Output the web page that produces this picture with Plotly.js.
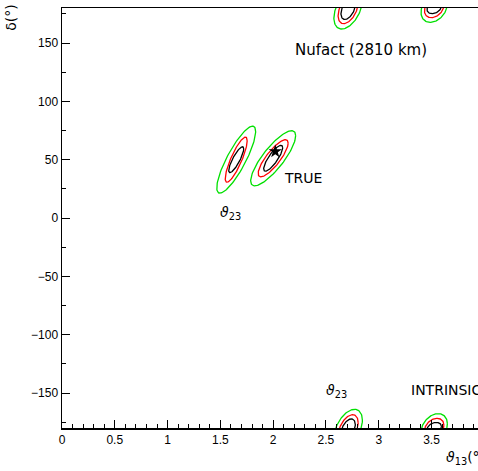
<!DOCTYPE html>
<html><head><meta charset="utf-8">
<script src="https://cdn.plot.ly/plotly-3.0.1.min.js"></script>
<style>html,body{margin:0;padding:0;background:#fff;overflow:hidden}#plot{width:478px;height:471px}</style>
</head><body><div id="plot"></div>
<script>
// Solutions (fit centres): theta13 (deg), delta (deg)
const solNames = ['true', 'theta23', 'intrinsic', 'intrinsic-theta23'];
const solTheta13 = [2.00, 1.65, 2.71, 3.525];
const solDelta = [51.2, 50.0, 179.0, 180.0];
const solRho = [0.82, 0.84, 0.45, 0.3];
// contour levels: inner (black), middle (red), outer (green)
const levelColors = ['#000000', '#ff0000', '#00e000'];
// half-extents in theta13 per solution, per level [black, red, green]
const halfTheta13 = [
  [0.090, 0.142, 0.213],
  [0.071, 0.104, 0.184],
  [0.068, 0.095, 0.135],
  [0.068, 0.092, 0.125]
];
// half-extents in delta per solution, per level
const halfDelta = [
  [11.1, 15.9, 23.6],
  [11.1, 19.3, 28.7],
  [8.8, 12.4, 17.0],
  [4.8, 8.3, 12.3]
];
const trueTheta13 = [2.02];
const trueDelta = [57];

const traces = [];
const N = 120;
solTheta13.forEach((cx, s) => {
  const phi = Math.acos(solRho[s]);
  levelColors.forEach((col, l) => {
    const hx = halfTheta13[s][l], hy = halfDelta[s][l];
    // draw the contour at delta and at its 360-degree copy (delta is periodic)
    [0, -360, 360].forEach(shift => {
      const cy = solDelta[s] + shift;
      if (cy - hy > 180 || cy + hy < -180) return;
      const xs = [], ys = [];
      for (let i = 0; i <= N; i++) {
        const t = 2 * Math.PI * i / N;
        xs.push(cx + hx * Math.cos(t));
        ys.push(cy + hy * Math.cos(t - phi));
      }
      traces.push({x: xs, y: ys, type: 'scatter', mode: 'lines',
        line: {color: col, width: 1.3}, hoverinfo: 'skip', showlegend: false});
    });
  });
});
traces.push({x: trueTheta13, y: trueDelta, type: 'scatter', mode: 'markers',
  marker: {symbol: 'star', size: 10, color: '#000'}, showlegend: false});

const txtFont = {family: 'DejaVu Sans, sans-serif', size: 14, color: '#000'};
const layout = {
  width: 478, height: 471,
  margin: {l: 62, r: 0, t: 8, b: 43},
  paper_bgcolor: '#fff', plot_bgcolor: '#fff',
  showlegend: false,
  xaxis: {range: [0, 3.94], showgrid: false, zeroline: false,
    showline: true, linecolor: '#000', linewidth: 1.5, mirror: true,
    ticks: 'inside', ticklen: 8, tickwidth: 1, tickcolor: '#000', dtick: 0.5, tick0: 0,
    minor: {ticks: 'inside', ticklen: 4, dtick: 0.1, tickcolor: '#000'},
    tickfont: {family: 'Liberation Sans, Arial, sans-serif', size: 12, color: '#000'}},
  yaxis: {range: [-180, 180], showgrid: false, zeroline: false,
    showline: true, linecolor: '#000', linewidth: 1.5,
    ticks: 'inside', ticklen: 8, tickwidth: 1, tickcolor: '#000', dtick: 50, tick0: 0,
    minor: {ticks: 'inside', ticklen: 4, dtick: 25, tickcolor: '#000'},
    tickfont: {family: 'Liberation Sans, Arial, sans-serif', size: 12, color: '#000'}},
  annotations: [
    {text: 'Nufact (2810 km)', x: 2.19, y: 144, xanchor: 'left', yanchor: 'middle', showarrow: false, font: Object.assign({}, txtFont, {size: 15})},
    {text: 'TRUE', x: 2.085, y: 34.3, xanchor: 'left', yanchor: 'middle', showarrow: false, font: txtFont},
    {text: 'INTRINSIC', x: 3.29, y: -147.7, xanchor: 'left', yanchor: 'middle', showarrow: false, font: txtFont},
    {text: '<i>ϑ</i><sub>23</sub>', x: 1.60, y: 4, xanchor: 'center', yanchor: 'middle', showarrow: false, font: txtFont},
    {text: '<i>ϑ</i><sub>23</sub>', x: 2.60, y: -148.6, xanchor: 'center', yanchor: 'middle', showarrow: false, font: txtFont},
    {text: '<i>ϑ</i><sub>13</sub>(°)', xref: 'paper', yref: 'paper', x: 0.918, y: -0.071, xanchor: 'left', yanchor: 'middle', showarrow: false, font: txtFont},
    {text: 'δ(°)', xref: 'paper', yref: 'paper', x: -0.1226, y: 0.979, xanchor: 'center', yanchor: 'middle', textangle: -90, showarrow: false, font: txtFont}
  ]
};
Plotly.newPlot('plot', traces, layout, {staticPlot: true});
</script></body></html>
